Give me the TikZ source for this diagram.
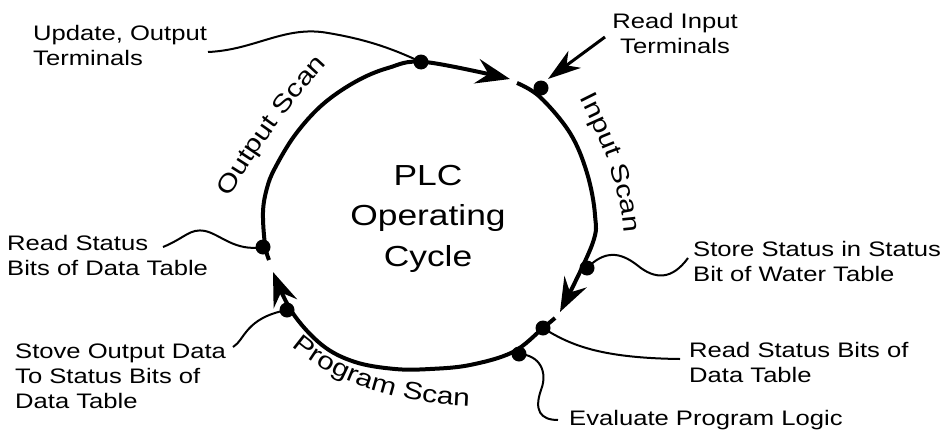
\documentclass[tikz,border=0pt]{standalone}
\usepackage{fontspec}
\setmainfont{Liberation Sans}[FakeStretch=1.22]
\usetikzlibrary{arrows.meta,decorations.text}
\newcommand\plclab{\fontsize{21}{25}\selectfont}
\newcommand\plcscan{\fontsize{24.5}{28}\selectfont}
\newcommand\plcbig{\fontsize{29}{40.5}\selectfont}
\begin{document}
\begin{tikzpicture}[x=1pt,y=-1pt,
  ring/.style={line width=4pt,line cap=butt},
  ringtip/.style={-{Stealth[length=34pt,width=25pt,inset=12pt]}},
  lead/.style={line width=2pt},
  dotmark/.style={circle,fill=black,inner sep=0pt,minimum size=15pt},
  lab/.style={align=left,inner sep=0pt,font=\plclab,anchor=base west},
  scan/.style={decorate,decoration={text along path,text align=center,text={|\plcscan|#1}}}
]
\fill[white] (0,0) rectangle (947,431);
\useasboundingbox (0,0) rectangle (947,431);

% ring arcs
\draw[ring,ringtip] plot[smooth,tension=0.6] coordinates {(269,260) (265,245) (263,212) (267,188) (275,168) (295,135) (322,105) (355,82) (388,68) (425,62) (510,79)};
\draw[ring,ringtip] plot[smooth,tension=0.6] coordinates {(517,83) (540,97) (570,133) (587,173) (595,215) (592,245) (560,312)};
\draw[ring,ringtip] plot[smooth,tension=0.6] coordinates {(555,318) (543,328) (513,352) (470,365) (430,369) (395,369) (355,362) (322,345) (292,312) (273,272)};

% scan labels
\path[scan={Output Scan}] (225,205) .. controls (256,152) and (292,100) .. (333,58);
\path[scan={Input Scan}] (574,86) .. controls (597,131) and (624,186) .. (624,246);
\path[scan={Program Scan}] (276,330) .. controls (318,380) and (400,408) .. (492,406);

% centre title
\node[font=\plcbig,align=center,inner sep=0pt,anchor=base] (title) at (428,266) {PLC\\Operating\\Cycle};

% dots
\node[dotmark] (dUpd) at (421,62) {};
\node[dotmark] (dRin) at (541,88) {};
\node[dotmark] (dRsL) at (263,247) {};
\node[dotmark] (dStv) at (287,310) {};
\node[dotmark] (dSto) at (587,268) {};
\node[dotmark] (dRsR) at (543,328) {};
\node[dotmark] (dEva) at (519,354) {};

% labels (anchor = baseline of the last line)
\node[lab] (lUpd) at (33,65.7) {Update, Output\\Terminals};
\node[lab,align=center,anchor=base] (lRin) at (675,53) {Read Input\\Terminals};
\node[lab] (lRsL) at (7,275) {Read Status\\Bits of Data Table};
\node[lab] (lStv) at (15,408) {Stove Output Data\\To Status Bits of\\Data Table};
\node[lab] (lSto) at (693,281) {Store Status in Status\\Bit of Water Table};
\node[lab] (lRsR) at (689,382) {Read Status Bits of\\Data Table};
\node[lab] (lEva) at (569,425) {Evaluate Program Logic};

% connector ends beside the labels
\coordinate (sUpd) at (208,52);
\coordinate (sRin) at (605,37);
\coordinate (tRin) at (548,79);
\coordinate (sRsL) at (163,247);
\coordinate (sStv) at (233,347);
\coordinate (sSto) at (688,258);
\coordinate (sRsR) at (680,359);
\coordinate (sEva) at (558,420);

% connectors
\draw[lead] (sUpd) .. controls (255,50) and (285,25) .. (328,33) .. controls (370,40) and (395,50) .. (dUpd.center);
\draw[line width=3pt,-{Stealth[length=33pt,width=21pt,inset=10pt]}] (sRin) -- (tRin);
\draw[lead] (sRsL) .. controls (185,238) and (190,228) .. (205,231) .. controls (220,234) and (235,252) .. (dRsL.center);
\draw[lead] (sStv) .. controls (245,340) and (245,318) .. (dStv.center);
\draw[lead] (dSto.center) .. controls (605,250) and (620,252) .. (637,265) .. controls (655,280) and (672,280) .. (sSto);
\draw[lead] (dRsR.center) .. controls (570,345) and (600,358) .. (sRsR);
\draw[lead] (dEva.center) .. controls (540,355) and (548,372) .. (541,390) .. controls (534,410) and (540,420) .. (sEva);
\end{tikzpicture}
\end{document}
